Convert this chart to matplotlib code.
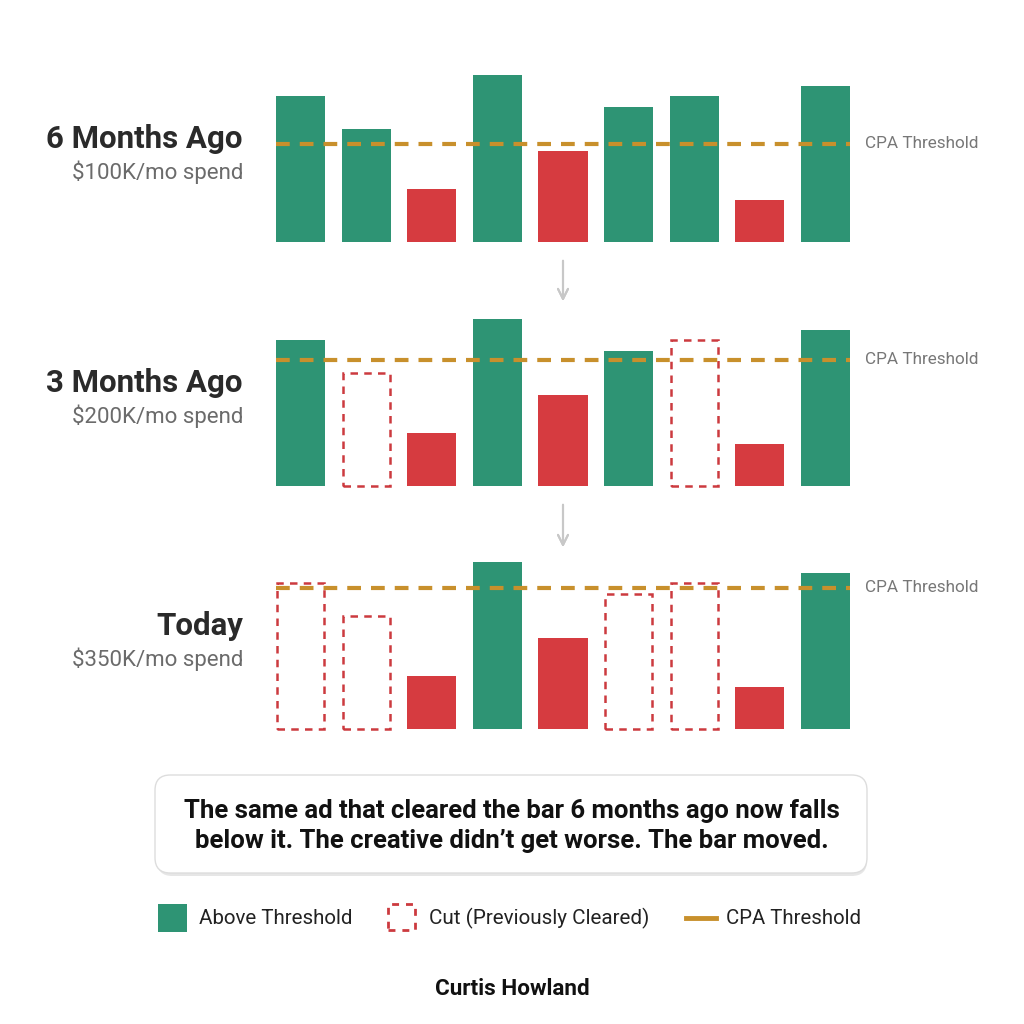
import matplotlib.pyplot as plt
from matplotlib.patches import Rectangle, FancyBboxPatch
from matplotlib.lines import Line2D

plt.rcParams['font.family'] = ['Roboto', 'DejaVu Sans']

# ad performance (same ads in every period)
ad_scores = [146, 113, 53, 167, 91, 135, 146, 42, 156]

periods = ['6 Months Ago', '3 Months Ago', 'Today']
spend_labels = ['$100K/mo spend', '$200K/mo spend', '$350K/mo spend']
thresholds = [98, 126, 141]

# g = above threshold, r = below (never cleared), c = cut (previously cleared)
status_6mo = ['g', 'g', 'r', 'g', 'r', 'g', 'g', 'r', 'g']
status_3mo = ['g', 'c', 'r', 'g', 'r', 'g', 'c', 'r', 'g']
status_now = ['c', 'c', 'r', 'g', 'r', 'c', 'c', 'r', 'g']
statuses = [status_6mo, status_3mo, status_now]

caption = ("The same ad that cleared the bar 6 months ago now falls\n"
           "below it. The creative didn\u2019t get worse. The bar moved.")
author = "Curtis Howland"

GREEN = '#2E9474'
RED = '#D63B40'
CUT_RED = '#CC3A3F'
GOLD = '#C8902C'
W, H = 1024, 1024

fig = plt.figure(figsize=(10.24, 10.24), dpi=100)
fig.patch.set_facecolor('white')

def fx(px):
    return px / W

def fy(py):
    return 1 - py / H

baselines = [242, 486, 729]
x_left, x_right = 276, 850
ymax = 175

for i, period in enumerate(periods):
    base = baselines[i]
    ax = fig.add_axes([fx(x_left), fy(base), fx(x_right - x_left), ymax / H])
    ax.set_xlim(-0.375, len(ad_scores) - 0.625)
    ax.set_ylim(0, ymax)
    ax.axis('off')
    for j, (v, s) in enumerate(zip(ad_scores, statuses[i])):
        if s == 'c':
            ax.add_patch(Rectangle((j - 0.36, 0), 0.72, v, facecolor='none',
                                   edgecolor=CUT_RED, linewidth=1.8,
                                   linestyle=(0, (3, 2.5)), clip_on=False))
        else:
            ax.bar(j, v, width=0.75, color=GREEN if s == 'g' else RED)
    ax.plot([-0.375, len(ad_scores) - 0.625], [thresholds[i]] * 2, color=GOLD,
            linewidth=3, linestyle=(0, (3.3, 2.4)), clip_on=False)
    ax.text(8.6, thresholds[i], 'CPA Threshold', color='#777777', fontsize=12.3,
            va='center', ha='left', clip_on=False)

    # left labels
    label_y = base - 103
    fig.text(fx(243), fy(label_y), period, fontsize=22.5, fontweight='bold',
             color='#2a2a2a', ha='right', va='center')
    fig.text(fx(243), fy(label_y + 33), spend_labels[i], fontsize=16,
             color='#6b6b6b', ha='right', va='center')

# arrows between panels
for y0, y1 in [(258, 304), (502, 550)]:
    fig.add_artist(plt.annotate('', xy=(fx(563), fy(y1)), xytext=(fx(563), fy(y0)),
                                xycoords='figure fraction',
                                arrowprops=dict(arrowstyle='->', color='#c8c8c8',
                                                lw=1.5, mutation_scale=18)))

# caption box with soft shadow
shadow = FancyBboxPatch((fx(157), fy(876)), fx(710), fx(98),
                        boxstyle='round,pad=0,rounding_size=0.015',
                        transform=fig.transFigure, facecolor='#e6e6e6',
                        edgecolor='none', zorder=1)
box = FancyBboxPatch((fx(155), fy(873)), fx(712), fx(98),
                     boxstyle='round,pad=0,rounding_size=0.015',
                     transform=fig.transFigure, facecolor='white',
                     edgecolor='#dddddd', linewidth=1, zorder=2)
fig.patches.extend([shadow, box])
fig.text(0.5, fy(826), caption, fontsize=18.5, fontweight='bold', ha='center',
         va='center', color='#111111', linespacing=1.3, zorder=3)

# legend
leg_y = 918
fig.patches.append(Rectangle((fx(158), fy(932)), fx(29), fx(28),
                             transform=fig.transFigure, facecolor=GREEN,
                             edgecolor='none'))
fig.text(fx(199), fy(leg_y), 'Above Threshold', fontsize=14.8, color='#222222',
         va='center', ha='left')
fig.patches.append(Rectangle((fx(388), fy(930)), fx(27), fx(26),
                             transform=fig.transFigure, facecolor='none',
                             edgecolor=CUT_RED, linewidth=2,
                             linestyle=(0, (2.5, 2.5))))
fig.text(fx(429), fy(leg_y), 'Cut (Previously Cleared)', fontsize=14.9,
         color='#222222', va='center', ha='left')
fig.add_artist(Line2D([fx(686), fx(716)], [fy(leg_y), fy(leg_y)], color=GOLD,
                      linewidth=3.5, transform=fig.transFigure))
fig.text(fx(726), fy(leg_y), 'CPA Threshold', fontsize=14.7, color='#222222',
         va='center', ha='left')

fig.text(0.5, fy(989), author, fontsize=16.2, fontweight='bold', ha='center',
         va='center', color='#111111')

fig.savefig('out.png', dpi=100, facecolor='white')
